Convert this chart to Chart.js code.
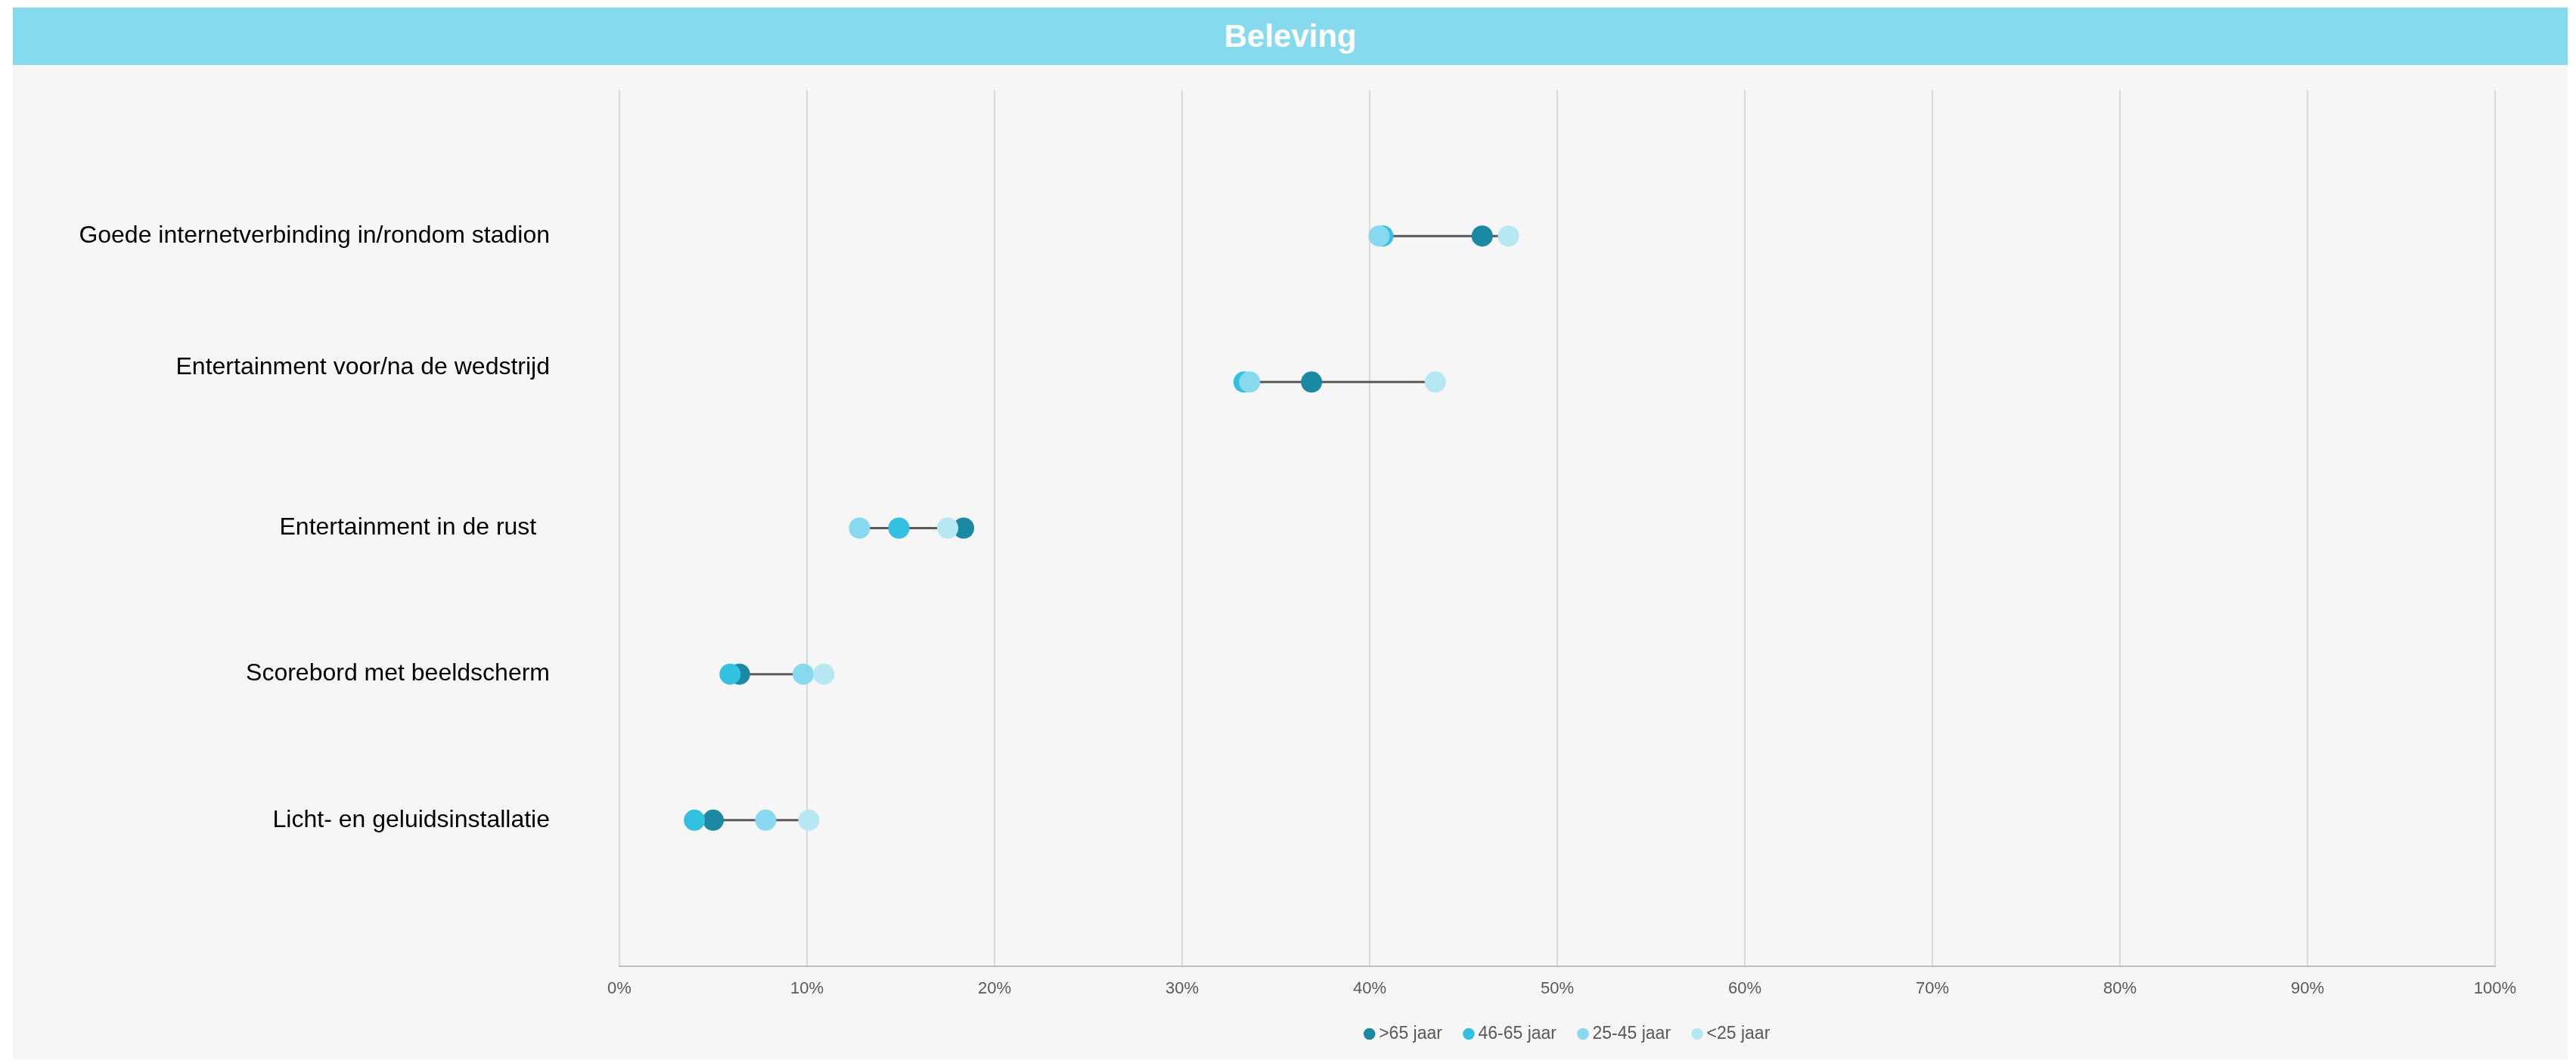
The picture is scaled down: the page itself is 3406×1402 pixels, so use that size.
<!DOCTYPE html>
<html>
<head>
<meta charset="utf-8">
<script src="https://cdn.jsdelivr.net/npm/chart.js@4/dist/chart.umd.min.js"></script>
<style>
  body { margin: 0; background: #ffffff; font-family: "Liberation Sans", Arial, sans-serif; }
  #band {
    position: absolute; left: 17px; top: 10px; width: 3378px; height: 76px;
    background: #86daee; color: #ffffff; font-weight: bold; font-size: 42px;
    line-height: 76px; text-align: center;
  }
  #wrap {
    position: absolute; left: 17px; top: 86px; width: 3378px; height: 1315px;
    background: #f6f6f6;
  }
</style>
</head>
<body>
<div id="band">Beleving</div>
<div id="wrap"><canvas id="chart"></canvas></div>
<script>
// row labels, top to bottom (row 2 gets an empty second line, row 3 trailing spaces)
const categories = [
  "Goede internetverbinding in/rondom stadion",
  ["Entertainment voor/na de wedstrijd", ""],
  "Entertainment in de rust  ",
  "Scorebord met beeldscherm",
  "Licht- en geluidsinstallatie",
];

// percentages per age group, same row order as categories
const over65 = [46.0, 36.9, 18.35, 6.4, 5.0];
const age46to65 = [40.7, 33.3, 14.9, 5.9, 4.0];
const age25to45 = [40.5, 33.6, 12.8, 9.8, 7.8];
const under25 = [47.4, 43.5, 17.5, 10.9, 10.1];

const xTicks = [0, 10, 20, 30, 40, 50, 60, 70, 80, 90, 100];

const toPoints = values => values.map((v, i) => ({ x: v, y: i + 1 }));

function dotSet(label, values, color) {
  return {
    label: label,
    data: toPoints(values),
    backgroundColor: color,
    borderColor: color,
    borderWidth: 0,
    pointRadius: 14,
    pointHoverRadius: 14,
  };
}

// datasets drawn last-to-first, so the lightest group ends up on top
const datasets = [
  dotSet("<25 jaar", under25, "#b6e8f4"),
  dotSet("25-45 jaar", age25to45, "#86d9ee"),
  dotSet("46-65 jaar", age46to65, "#33c1e1"),
  dotSet(">65 jaar", over65, "#1a89a1"),
];

// the grey connector from lowest to highest value in each row
categories.forEach((cat, i) => {
  const vals = [over65[i], age46to65[i], age25to45[i], under25[i]];
  datasets.push({
    label: "line" + i,
    data: [{ x: Math.min(...vals), y: i + 1 }, { x: Math.max(...vals), y: i + 1 }],
    showLine: true,
    borderColor: "#595959",
    borderWidth: 3,
    pointRadius: 0,
    pointHoverRadius: 0,
  });
});

// legend sits a little right of the plot centre in the original
const legendNudge = {
  id: "legendNudge",
  afterLayout(chart) {
    chart.legend.left += 16;
    chart.legend.right += 16;
  },
};

const ctx = document.querySelector("#chart").getContext("2d");
new Chart(ctx, {
  type: "scatter",
  data: { datasets: datasets },
  plugins: [legendNudge],
  options: {
    responsive: true,
    maintainAspectRatio: false,
    animation: false,
    layout: { padding: { top: 33, right: 96, bottom: 12, left: 0 } },
    plugins: {
      tooltip: { enabled: false },
      legend: {
        position: "bottom",
        fullSize: false,
        reverse: true,
        labels: {
          filter: item => item.datasetIndex < 4,
          usePointStyle: true,
          pointStyle: "circle",
          boxWidth: 2,
          boxHeight: 11,
          padding: 34,
          color: "#595959",
          font: { family: "Liberation Sans", size: 23 },
        },
      },
    },
    scales: {
      x: {
        type: "linear",
        min: 0,
        max: 100,
        afterBuildTicks: scale => { scale.ticks = xTicks.map(v => ({ value: v })); },
        afterFit: scale => { scale.height = 44; },
        ticks: {
          callback: v => v + "%",
          color: "#595959",
          padding: 17,
          font: { family: "Liberation Sans", size: 22 },
        },
        grid: { color: "#d9d9d9", lineWidth: 2, drawTicks: false },
        border: { color: "#bfbfbf", width: 2 },
      },
      y: {
        type: "linear",
        min: 0,
        max: 6,
        reverse: true,
        afterBuildTicks: scale => {
          scale.ticks = categories.map((c, i) => ({ value: i + 1 }));
        },
        // fixed axis width; drop the label overhang padding so the plot keeps its top
        afterFit: scale => {
          scale.width = 802;
          scale.paddingTop = 0;
          scale.paddingBottom = 0;
        },
        ticks: {
          autoSkip: false,
          callback: v => categories[v - 1],
          color: "#000000",
          padding: 92,
          font: { family: "Liberation Sans", size: 32 },
        },
        grid: { display: false, drawTicks: false },
        border: { display: false },
      },
    },
  },
});
</script>
</body>
</html>
